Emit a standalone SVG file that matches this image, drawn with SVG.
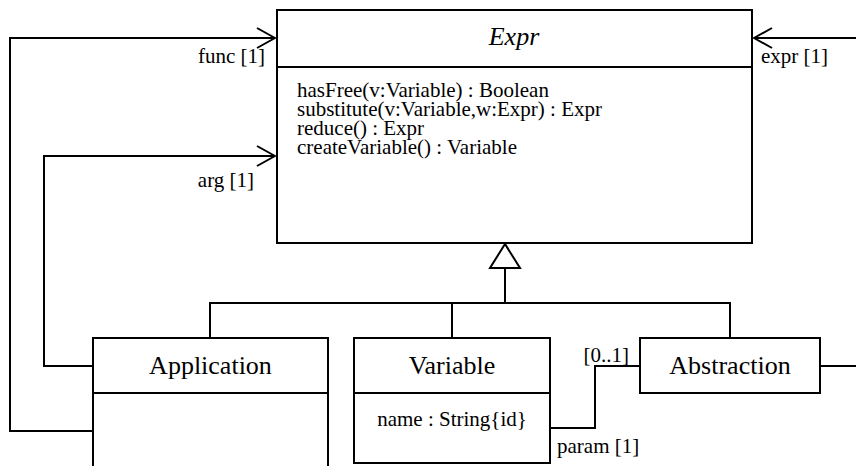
<svg xmlns="http://www.w3.org/2000/svg" width="856" height="466" viewBox="0 0 856 466">
<style>
.box{fill:#fff;stroke:#000;stroke-width:2}
.ln{fill:none;stroke:#000;stroke-width:2}
.name{font-family:"Liberation Serif","Times New Roman",serif;font-size:26px;text-anchor:middle;fill:#000}
.txt{font-family:"Liberation Serif","Times New Roman",serif;font-size:21px;fill:#000}
</style>
<defs>
<marker id="open" viewBox="0 0 20 22" refX="19" refY="11" markerWidth="20" markerHeight="22" markerUnits="userSpaceOnUse" orient="auto">
<path d="M1,1 L19,11 L1,21" fill="none" stroke="#000" stroke-width="2"/>
</marker>
</defs>
<rect width="856" height="466" fill="#fff"/>
<g id="connectors">
<polyline class="ln" points="93,431 10,431 10,38 275,38" marker-end="url(#open)"/>
<polyline class="ln" points="93,366 44,366 44,156 275,156" marker-end="url(#open)"/>
<polyline class="ln" points="856,38 754,38" marker-end="url(#open)"/>
<line class="ln" x1="820" y1="366" x2="856" y2="366"/>
<polyline class="ln" points="550,428 595,428 595,366 640,366"/>
<polyline class="ln" points="210,338 210,303 730,303 730,338"/>
<line class="ln" x1="452" y1="303" x2="452" y2="338"/>
<line class="ln" x1="505" y1="303" x2="505" y2="268"/>
<polygon class="box" points="505,244 490,268 520,268"/>
<text class="txt" x="265" y="63" text-anchor="end">func [1]</text>
<text class="txt" x="254" y="187" text-anchor="end">arg [1]</text>
<text class="txt" x="761" y="63">expr [1]</text>
<text class="txt" x="629" y="362" text-anchor="end">[0..1]</text>
<text class="txt" x="557" y="453">param [1]</text>
</g>
<g id="Expr">
<rect class="box" x="277" y="10" width="475" height="233"/>
<line class="ln" x1="277" y1="67" x2="752" y2="67"/>
<text class="name" x="514" y="45" font-style="italic">Expr</text>
<text class="txt" x="297" y="97">hasFree(v:Variable) : Boolean</text>
<text class="txt" x="297" y="116">substitute(v:Variable,w:Expr) : Expr</text>
<text class="txt" x="297" y="135">reduce() : Expr</text>
<text class="txt" x="297" y="154">createVariable() : Variable</text>
</g>
<g id="Application">
<rect class="box" x="93" y="338" width="235" height="140"/>
<line class="ln" x1="93" y1="393" x2="328" y2="393"/>
<text class="name" x="210.5" y="374">Application</text>
</g>
<g id="Variable">
<rect class="box" x="354" y="338" width="196" height="125"/>
<line class="ln" x1="354" y1="393" x2="550" y2="393"/>
<text class="name" x="452" y="374">Variable</text>
<text class="txt" x="452" y="426" text-anchor="middle">name : String{id}</text>
</g>
<g id="Abstraction">
<rect class="box" x="640" y="338" width="180" height="55"/>
<text class="name" x="730" y="374">Abstraction</text>
</g>
</svg>
